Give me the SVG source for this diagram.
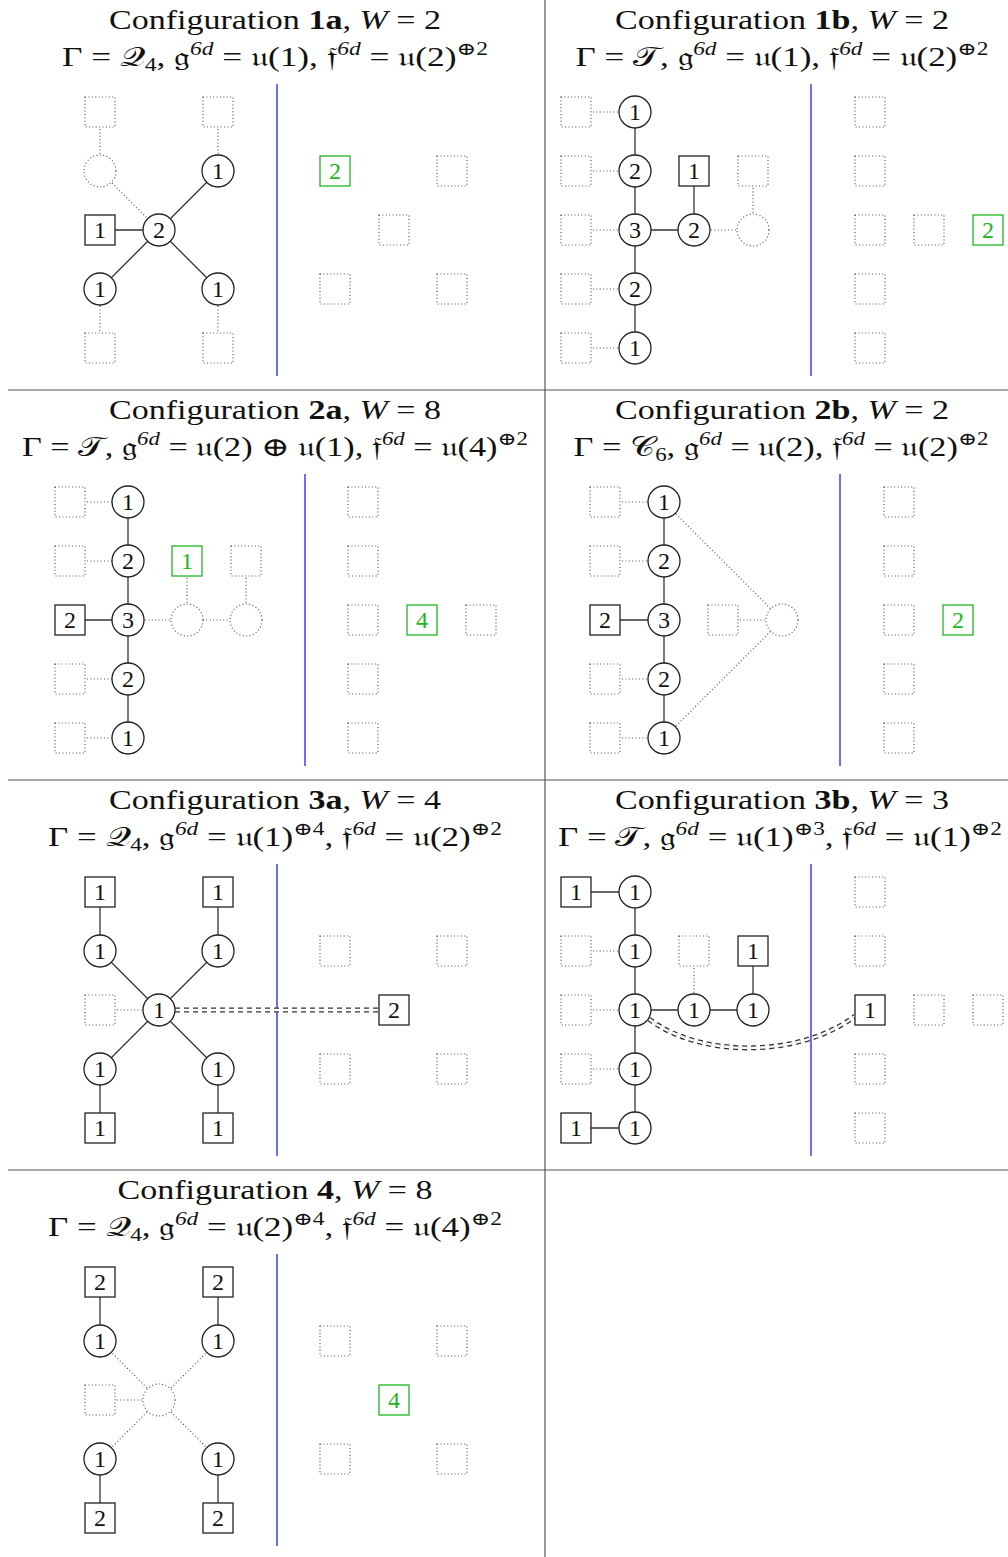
<svg xmlns="http://www.w3.org/2000/svg" width="1008" height="1557" viewBox="0 0 1008 1557">
<defs>
<style>
.bg{fill:#fff}
.grid{stroke:#555;stroke-width:1.2;fill:none}
.blue{stroke:#3333ee;stroke-width:1.4;fill:none}
.sl{stroke:#333;stroke-width:1.3;fill:none}
.dl{stroke:#555;stroke-width:1.2;stroke-dasharray:1 2.4;fill:none}
.dblo{stroke:#333;stroke-width:5;stroke-dasharray:5 4;fill:none}
.dbli{stroke:#fff;stroke-width:2.4;stroke-dasharray:5 4;fill:none}
.c{fill:#fff;stroke:#222;stroke-width:1.3}
.dc{fill:#fff;stroke:#555;stroke-width:1.2;stroke-dasharray:1 2.4}
.q{fill:#fff;stroke:#222;stroke-width:1.3}
.dq{fill:#fff;stroke:#555;stroke-width:1.2;stroke-dasharray:1 2.4}
.gq{fill:#fff;stroke:#22b422;stroke-width:1.3}
.n{font-family:"Liberation Serif","DejaVu Serif",serif;font-size:24px;text-anchor:middle;fill:#111}
.gn{font-family:"Liberation Serif","DejaVu Serif",serif;font-size:24px;text-anchor:middle;fill:#22b422}
.h{font-family:"Liberation Serif","DejaVu Serif","Noto Sans",serif;font-size:27px;text-anchor:middle;fill:#111}
.s{font-size:18px}
.i{font-style:italic}
.b{font-weight:bold}
</style>
</defs>
<rect class="bg" x="0" y="0" width="1008" height="1557"/>
<g id="grid">
<line class="grid" x1="545" y1="0" x2="545" y2="1557"/>
<line class="grid" x1="8" y1="390" x2="1008" y2="390"/>
<line class="grid" x1="8" y1="780" x2="1008" y2="780"/>
<line class="grid" x1="8" y1="1170" x2="1008" y2="1170"/>
</g>
<g id="titles">
<text class="h" x="275" y="29" textLength="332" lengthAdjust="spacingAndGlyphs">Configuration <tspan class="b">1a</tspan>, <tspan class="i">W</tspan> = 2</text>
<text class="h" x="275" y="66" textLength="426" lengthAdjust="spacingAndGlyphs">Γ = 𝒬<tspan class="s" dy="5">4</tspan><tspan dy="-5">, 𝔤</tspan><tspan class="s i" dy="-11">6d</tspan><tspan dy="11"> = 𝔲(1), 𝔣</tspan><tspan class="s i" dy="-11">6d</tspan><tspan dy="11"> = 𝔲(2)</tspan><tspan class="s" dy="-11">⊕2</tspan></text>
<text class="h" x="782" y="29" textLength="334" lengthAdjust="spacingAndGlyphs">Configuration <tspan class="b">1b</tspan>, <tspan class="i">W</tspan> = 2</text>
<text class="h" x="782" y="66" textLength="413" lengthAdjust="spacingAndGlyphs">Γ = 𝒯, 𝔤<tspan class="s i" dy="-11">6d</tspan><tspan dy="11"> = 𝔲(1), 𝔣</tspan><tspan class="s i" dy="-11">6d</tspan><tspan dy="11"> = 𝔲(2)</tspan><tspan class="s" dy="-11">⊕2</tspan></text>
<text class="h" x="275" y="419" textLength="332" lengthAdjust="spacingAndGlyphs">Configuration <tspan class="b">2a</tspan>, <tspan class="i">W</tspan> = 8</text>
<text class="h" x="275" y="456" textLength="506" lengthAdjust="spacingAndGlyphs">Γ = 𝒯, 𝔤<tspan class="s i" dy="-11">6d</tspan><tspan dy="11"> = 𝔲(2) ⊕ 𝔲(1), 𝔣</tspan><tspan class="s i" dy="-11">6d</tspan><tspan dy="11"> = 𝔲(4)</tspan><tspan class="s" dy="-11">⊕2</tspan></text>
<text class="h" x="782" y="419" textLength="334" lengthAdjust="spacingAndGlyphs">Configuration <tspan class="b">2b</tspan>, <tspan class="i">W</tspan> = 2</text>
<text class="h" x="781" y="456" textLength="415" lengthAdjust="spacingAndGlyphs">Γ = 𝒞<tspan class="s" dy="5">6</tspan><tspan dy="-5">, 𝔤</tspan><tspan class="s i" dy="-11">6d</tspan><tspan dy="11"> = 𝔲(2), 𝔣</tspan><tspan class="s i" dy="-11">6d</tspan><tspan dy="11"> = 𝔲(2)</tspan><tspan class="s" dy="-11">⊕2</tspan></text>
<text class="h" x="275" y="809" textLength="332" lengthAdjust="spacingAndGlyphs">Configuration <tspan class="b">3a</tspan>, <tspan class="i">W</tspan> = 4</text>
<text class="h" x="275" y="846" textLength="454" lengthAdjust="spacingAndGlyphs">Γ = 𝒬<tspan class="s" dy="5">4</tspan><tspan dy="-5">, 𝔤</tspan><tspan class="s i" dy="-11">6d</tspan><tspan dy="11"> = 𝔲(1)</tspan><tspan class="s" dy="-11">⊕4</tspan><tspan dy="11">, 𝔣</tspan><tspan class="s i" dy="-11">6d</tspan><tspan dy="11"> = 𝔲(2)</tspan><tspan class="s" dy="-11">⊕2</tspan></text>
<text class="h" x="782" y="809" textLength="334" lengthAdjust="spacingAndGlyphs">Configuration <tspan class="b">3b</tspan>, <tspan class="i">W</tspan> = 3</text>
<text class="h" x="780" y="846" textLength="444" lengthAdjust="spacingAndGlyphs">Γ = 𝒯, 𝔤<tspan class="s i" dy="-11">6d</tspan><tspan dy="11"> = 𝔲(1)</tspan><tspan class="s" dy="-11">⊕3</tspan><tspan dy="11">, 𝔣</tspan><tspan class="s i" dy="-11">6d</tspan><tspan dy="11"> = 𝔲(1)</tspan><tspan class="s" dy="-11">⊕2</tspan></text>
<text class="h" x="275" y="1199" textLength="315" lengthAdjust="spacingAndGlyphs">Configuration <tspan class="b">4</tspan>, <tspan class="i">W</tspan> = 8</text>
<text class="h" x="275" y="1236" textLength="454" lengthAdjust="spacingAndGlyphs">Γ = 𝒬<tspan class="s" dy="5">4</tspan><tspan dy="-5">, 𝔤</tspan><tspan class="s i" dy="-11">6d</tspan><tspan dy="11"> = 𝔲(2)</tspan><tspan class="s" dy="-11">⊕4</tspan><tspan dy="11">, 𝔣</tspan><tspan class="s i" dy="-11">6d</tspan><tspan dy="11"> = 𝔲(4)</tspan><tspan class="s" dy="-11">⊕2</tspan></text>
</g>
<g id="walls">
<line class="blue" x1="277" y1="84" x2="277" y2="376"/>
<line class="blue" x1="811" y1="84" x2="811" y2="376"/>
<line class="blue" x1="305" y1="474" x2="305" y2="766"/>
<line class="blue" x1="840" y1="474" x2="840" y2="766"/>
<line class="blue" x1="277" y1="864" x2="277" y2="1156"/>
<line class="blue" x1="811" y1="864" x2="811" y2="1156"/>
<line class="blue" x1="277" y1="1254" x2="277" y2="1546"/>
</g>
<g id="connectors">
<line class="sl" x1="159" y1="230" x2="218" y2="171"/>
<line class="sl" x1="159" y1="230" x2="100" y2="289"/>
<line class="sl" x1="159" y1="230" x2="218" y2="289"/>
<line class="sl" x1="100" y1="230" x2="159" y2="230"/>
<line class="dl" x1="100" y1="112" x2="100" y2="171"/>
<line class="dl" x1="100" y1="171" x2="159" y2="230"/>
<line class="dl" x1="218" y1="112" x2="218" y2="171"/>
<line class="dl" x1="100" y1="289" x2="100" y2="348"/>
<line class="dl" x1="218" y1="289" x2="218" y2="348"/>
<line class="sl" x1="635" y1="112" x2="635" y2="348"/>
<line class="sl" x1="635" y1="230" x2="694" y2="230"/>
<line class="sl" x1="694" y1="171" x2="694" y2="230"/>
<line class="dl" x1="576" y1="112" x2="635" y2="112"/>
<line class="dl" x1="576" y1="171" x2="635" y2="171"/>
<line class="dl" x1="576" y1="230" x2="635" y2="230"/>
<line class="dl" x1="576" y1="289" x2="635" y2="289"/>
<line class="dl" x1="576" y1="348" x2="635" y2="348"/>
<line class="dl" x1="694" y1="230" x2="753" y2="230"/>
<line class="dl" x1="753" y1="171" x2="753" y2="230"/>
<line class="sl" x1="128" y1="502" x2="128" y2="738"/>
<line class="sl" x1="70" y1="620" x2="128" y2="620"/>
<line class="dl" x1="70" y1="502" x2="128" y2="502"/>
<line class="dl" x1="70" y1="561" x2="128" y2="561"/>
<line class="dl" x1="70" y1="679" x2="128" y2="679"/>
<line class="dl" x1="70" y1="738" x2="128" y2="738"/>
<line class="dl" x1="128" y1="620" x2="246" y2="620"/>
<line class="dl" x1="187" y1="561" x2="187" y2="620"/>
<line class="dl" x1="246" y1="561" x2="246" y2="620"/>
<line class="sl" x1="664" y1="502" x2="664" y2="738"/>
<line class="sl" x1="605" y1="620" x2="664" y2="620"/>
<line class="dl" x1="605" y1="502" x2="664" y2="502"/>
<line class="dl" x1="605" y1="561" x2="664" y2="561"/>
<line class="dl" x1="605" y1="679" x2="664" y2="679"/>
<line class="dl" x1="605" y1="738" x2="664" y2="738"/>
<line class="dl" x1="723" y1="620" x2="782" y2="620"/>
<line class="dl" x1="664" y1="502" x2="782" y2="620"/>
<line class="dl" x1="664" y1="738" x2="782" y2="620"/>
<line class="sl" x1="100" y1="892" x2="100" y2="951"/>
<line class="sl" x1="218" y1="892" x2="218" y2="951"/>
<line class="sl" x1="100" y1="1069" x2="100" y2="1128"/>
<line class="sl" x1="218" y1="1069" x2="218" y2="1128"/>
<line class="sl" x1="159" y1="1010" x2="100" y2="951"/>
<line class="sl" x1="159" y1="1010" x2="218" y2="951"/>
<line class="sl" x1="159" y1="1010" x2="100" y2="1069"/>
<line class="sl" x1="159" y1="1010" x2="218" y2="1069"/>
<line class="dl" x1="100" y1="1010" x2="159" y2="1010"/>
<path class="dblo" d="M175,1010 L379,1010"/>
<path class="dbli" d="M175,1010 L379,1010"/>
<line class="sl" x1="576" y1="892" x2="635" y2="892"/>
<line class="sl" x1="576" y1="1128" x2="635" y2="1128"/>
<line class="sl" x1="635" y1="892" x2="635" y2="1128"/>
<line class="sl" x1="635" y1="1010" x2="753" y2="1010"/>
<line class="sl" x1="753" y1="951" x2="753" y2="1010"/>
<line class="dl" x1="576" y1="951" x2="635" y2="951"/>
<line class="dl" x1="576" y1="1010" x2="635" y2="1010"/>
<line class="dl" x1="576" y1="1069" x2="635" y2="1069"/>
<line class="dl" x1="694" y1="951" x2="694" y2="1010"/>
<path class="dblo" d="M649,1019 C700,1058 800,1058 855,1016"/>
<path class="dbli" d="M649,1019 C700,1058 800,1058 855,1016"/>
<line class="sl" x1="100" y1="1282" x2="100" y2="1341"/>
<line class="sl" x1="218" y1="1282" x2="218" y2="1341"/>
<line class="sl" x1="100" y1="1459" x2="100" y2="1518"/>
<line class="sl" x1="218" y1="1459" x2="218" y2="1518"/>
<line class="dl" x1="159" y1="1400" x2="100" y2="1341"/>
<line class="dl" x1="159" y1="1400" x2="218" y2="1341"/>
<line class="dl" x1="159" y1="1400" x2="100" y2="1459"/>
<line class="dl" x1="159" y1="1400" x2="218" y2="1459"/>
<line class="dl" x1="100" y1="1400" x2="159" y2="1400"/>
</g>
<g id="p1a">
<g id="p1a-f1"><rect class="dq" x="85" y="97" width="30" height="30"/></g>
<g id="p1a-f2"><rect class="dq" x="203" y="97" width="30" height="30"/></g>
<g id="p1a-f3"><rect class="dq" x="85" y="333" width="30" height="30"/></g>
<g id="p1a-f4"><rect class="dq" x="203" y="333" width="30" height="30"/></g>
<g id="p1a-dc"><circle class="dc" cx="100" cy="171" r="16"/></g>
<g id="p1a-a"><circle class="c" cx="218" cy="171" r="16"/><text class="n" x="218" y="179">1</text></g>
<g id="p1a-b"><circle class="c" cx="159" cy="230" r="16"/><text class="n" x="159" y="238">2</text></g>
<g id="p1a-c"><circle class="c" cx="100" cy="289" r="16"/><text class="n" x="100" y="297">1</text></g>
<g id="p1a-d"><circle class="c" cx="218" cy="289" r="16"/><text class="n" x="218" y="297">1</text></g>
<g id="p1a-s"><rect class="q" x="85" y="215" width="30" height="30"/><text class="n" x="100" y="238">1</text></g>
<g id="p1a-g"><rect class="gq" x="320" y="156" width="30" height="30"/><text class="gn" x="335" y="179">2</text></g>
<g id="p1a-r1"><rect class="dq" x="437" y="156" width="30" height="30"/></g>
<g id="p1a-r2"><rect class="dq" x="379" y="215" width="30" height="30"/></g>
<g id="p1a-r3"><rect class="dq" x="320" y="274" width="30" height="30"/></g>
<g id="p1a-r4"><rect class="dq" x="437" y="274" width="30" height="30"/></g>
</g>
<g id="p1b">
<g id="p1b-f1"><rect class="dq" x="561" y="97" width="30" height="30"/></g>
<g id="p1b-f2"><rect class="dq" x="561" y="156" width="30" height="30"/></g>
<g id="p1b-f3"><rect class="dq" x="561" y="215" width="30" height="30"/></g>
<g id="p1b-f4"><rect class="dq" x="561" y="274" width="30" height="30"/></g>
<g id="p1b-f5"><rect class="dq" x="561" y="333" width="30" height="30"/></g>
<g id="p1b-a"><circle class="c" cx="635" cy="112" r="16"/><text class="n" x="635" y="120">1</text></g>
<g id="p1b-b"><circle class="c" cx="635" cy="171" r="16"/><text class="n" x="635" y="179">2</text></g>
<g id="p1b-c"><circle class="c" cx="635" cy="230" r="16"/><text class="n" x="635" y="238">3</text></g>
<g id="p1b-d"><circle class="c" cx="635" cy="289" r="16"/><text class="n" x="635" y="297">2</text></g>
<g id="p1b-e"><circle class="c" cx="635" cy="348" r="16"/><text class="n" x="635" y="356">1</text></g>
<g id="p1b-f"><circle class="c" cx="694" cy="230" r="16"/><text class="n" x="694" y="238">2</text></g>
<g id="p1b-s"><rect class="q" x="679" y="156" width="30" height="30"/><text class="n" x="694" y="179">1</text></g>
<g id="p1b-f6"><rect class="dq" x="738" y="156" width="30" height="30"/></g>
<g id="p1b-dc"><circle class="dc" cx="753" cy="230" r="16"/></g>
<g id="p1b-r1"><rect class="dq" x="855" y="97" width="30" height="30"/></g>
<g id="p1b-r2"><rect class="dq" x="855" y="156" width="30" height="30"/></g>
<g id="p1b-r3"><rect class="dq" x="855" y="215" width="30" height="30"/></g>
<g id="p1b-r4"><rect class="dq" x="855" y="274" width="30" height="30"/></g>
<g id="p1b-r5"><rect class="dq" x="855" y="333" width="30" height="30"/></g>
<g id="p1b-r6"><rect class="dq" x="914" y="215" width="30" height="30"/></g>
<g id="p1b-g"><rect class="gq" x="973" y="215" width="30" height="30"/><text class="gn" x="988" y="238">2</text></g>
</g>
<g id="p2a">
<g id="p2a-f1"><rect class="dq" x="55" y="487" width="30" height="30"/></g>
<g id="p2a-f2"><rect class="dq" x="55" y="546" width="30" height="30"/></g>
<g id="p2a-f3"><rect class="dq" x="55" y="664" width="30" height="30"/></g>
<g id="p2a-f4"><rect class="dq" x="55" y="723" width="30" height="30"/></g>
<g id="p2a-s"><rect class="q" x="55" y="605" width="30" height="30"/><text class="n" x="70" y="628">2</text></g>
<g id="p2a-a"><circle class="c" cx="128" cy="502" r="16"/><text class="n" x="128" y="510">1</text></g>
<g id="p2a-b"><circle class="c" cx="128" cy="561" r="16"/><text class="n" x="128" y="569">2</text></g>
<g id="p2a-c"><circle class="c" cx="128" cy="620" r="16"/><text class="n" x="128" y="628">3</text></g>
<g id="p2a-d"><circle class="c" cx="128" cy="679" r="16"/><text class="n" x="128" y="687">2</text></g>
<g id="p2a-e"><circle class="c" cx="128" cy="738" r="16"/><text class="n" x="128" y="746">1</text></g>
<g id="p2a-g1"><rect class="gq" x="172" y="546" width="30" height="30"/><text class="gn" x="187" y="569">1</text></g>
<g id="p2a-dc1"><circle class="dc" cx="187" cy="620" r="16"/></g>
<g id="p2a-dc2"><circle class="dc" cx="246" cy="620" r="16"/></g>
<g id="p2a-f5"><rect class="dq" x="231" y="546" width="30" height="30"/></g>
<g id="p2a-r1"><rect class="dq" x="348" y="487" width="30" height="30"/></g>
<g id="p2a-r2"><rect class="dq" x="348" y="546" width="30" height="30"/></g>
<g id="p2a-r3"><rect class="dq" x="348" y="605" width="30" height="30"/></g>
<g id="p2a-r4"><rect class="dq" x="348" y="664" width="30" height="30"/></g>
<g id="p2a-r5"><rect class="dq" x="348" y="723" width="30" height="30"/></g>
<g id="p2a-g2"><rect class="gq" x="407" y="605" width="30" height="30"/><text class="gn" x="422" y="628">4</text></g>
<g id="p2a-r6"><rect class="dq" x="466" y="605" width="30" height="30"/></g>
</g>
<g id="p2b">
<g id="p2b-f1"><rect class="dq" x="590" y="487" width="30" height="30"/></g>
<g id="p2b-f2"><rect class="dq" x="590" y="546" width="30" height="30"/></g>
<g id="p2b-f3"><rect class="dq" x="590" y="664" width="30" height="30"/></g>
<g id="p2b-f4"><rect class="dq" x="590" y="723" width="30" height="30"/></g>
<g id="p2b-s"><rect class="q" x="590" y="605" width="30" height="30"/><text class="n" x="605" y="628">2</text></g>
<g id="p2b-a"><circle class="c" cx="664" cy="502" r="16"/><text class="n" x="664" y="510">1</text></g>
<g id="p2b-b"><circle class="c" cx="664" cy="561" r="16"/><text class="n" x="664" y="569">2</text></g>
<g id="p2b-c"><circle class="c" cx="664" cy="620" r="16"/><text class="n" x="664" y="628">3</text></g>
<g id="p2b-d"><circle class="c" cx="664" cy="679" r="16"/><text class="n" x="664" y="687">2</text></g>
<g id="p2b-e"><circle class="c" cx="664" cy="738" r="16"/><text class="n" x="664" y="746">1</text></g>
<g id="p2b-f5"><rect class="dq" x="708" y="605" width="30" height="30"/></g>
<g id="p2b-dc"><circle class="dc" cx="782" cy="620" r="16"/></g>
<g id="p2b-r1"><rect class="dq" x="884" y="487" width="30" height="30"/></g>
<g id="p2b-r2"><rect class="dq" x="884" y="546" width="30" height="30"/></g>
<g id="p2b-r3"><rect class="dq" x="884" y="605" width="30" height="30"/></g>
<g id="p2b-r4"><rect class="dq" x="884" y="664" width="30" height="30"/></g>
<g id="p2b-r5"><rect class="dq" x="884" y="723" width="30" height="30"/></g>
<g id="p2b-g"><rect class="gq" x="943" y="605" width="30" height="30"/><text class="gn" x="958" y="628">2</text></g>
</g>
<g id="p3a">
<g id="p3a-s1"><rect class="q" x="85" y="877" width="30" height="30"/><text class="n" x="100" y="900">1</text></g>
<g id="p3a-s2"><rect class="q" x="203" y="877" width="30" height="30"/><text class="n" x="218" y="900">1</text></g>
<g id="p3a-s3"><rect class="q" x="85" y="1113" width="30" height="30"/><text class="n" x="100" y="1136">1</text></g>
<g id="p3a-s4"><rect class="q" x="203" y="1113" width="30" height="30"/><text class="n" x="218" y="1136">1</text></g>
<g id="p3a-a"><circle class="c" cx="100" cy="951" r="16"/><text class="n" x="100" y="959">1</text></g>
<g id="p3a-b"><circle class="c" cx="218" cy="951" r="16"/><text class="n" x="218" y="959">1</text></g>
<g id="p3a-c"><circle class="c" cx="159" cy="1010" r="16"/><text class="n" x="159" y="1018">1</text></g>
<g id="p3a-d"><circle class="c" cx="100" cy="1069" r="16"/><text class="n" x="100" y="1077">1</text></g>
<g id="p3a-e"><circle class="c" cx="218" cy="1069" r="16"/><text class="n" x="218" y="1077">1</text></g>
<g id="p3a-f1"><rect class="dq" x="85" y="995" width="30" height="30"/></g>
<g id="p3a-s5"><rect class="q" x="379" y="995" width="30" height="30"/><text class="n" x="394" y="1018">2</text></g>
<g id="p3a-r1"><rect class="dq" x="320" y="936" width="30" height="30"/></g>
<g id="p3a-r2"><rect class="dq" x="437" y="936" width="30" height="30"/></g>
<g id="p3a-r3"><rect class="dq" x="320" y="1054" width="30" height="30"/></g>
<g id="p3a-r4"><rect class="dq" x="437" y="1054" width="30" height="30"/></g>
</g>
<g id="p3b">
<g id="p3b-s1"><rect class="q" x="561" y="877" width="30" height="30"/><text class="n" x="576" y="900">1</text></g>
<g id="p3b-f1"><rect class="dq" x="561" y="936" width="30" height="30"/></g>
<g id="p3b-f2"><rect class="dq" x="561" y="995" width="30" height="30"/></g>
<g id="p3b-f3"><rect class="dq" x="561" y="1054" width="30" height="30"/></g>
<g id="p3b-s2"><rect class="q" x="561" y="1113" width="30" height="30"/><text class="n" x="576" y="1136">1</text></g>
<g id="p3b-a"><circle class="c" cx="635" cy="892" r="16"/><text class="n" x="635" y="900">1</text></g>
<g id="p3b-b"><circle class="c" cx="635" cy="951" r="16"/><text class="n" x="635" y="959">1</text></g>
<g id="p3b-c"><circle class="c" cx="635" cy="1010" r="16"/><text class="n" x="635" y="1018">1</text></g>
<g id="p3b-d"><circle class="c" cx="635" cy="1069" r="16"/><text class="n" x="635" y="1077">1</text></g>
<g id="p3b-e"><circle class="c" cx="635" cy="1128" r="16"/><text class="n" x="635" y="1136">1</text></g>
<g id="p3b-f"><circle class="c" cx="694" cy="1010" r="16"/><text class="n" x="694" y="1018">1</text></g>
<g id="p3b-g"><circle class="c" cx="753" cy="1010" r="16"/><text class="n" x="753" y="1018">1</text></g>
<g id="p3b-f4"><rect class="dq" x="679" y="936" width="30" height="30"/></g>
<g id="p3b-s3"><rect class="q" x="738" y="936" width="30" height="30"/><text class="n" x="753" y="959">1</text></g>
<g id="p3b-r1"><rect class="dq" x="855" y="877" width="30" height="30"/></g>
<g id="p3b-r2"><rect class="dq" x="855" y="936" width="30" height="30"/></g>
<g id="p3b-s4"><rect class="q" x="855" y="995" width="30" height="30"/><text class="n" x="870" y="1018">1</text></g>
<g id="p3b-r3"><rect class="dq" x="914" y="995" width="30" height="30"/></g>
<g id="p3b-r4"><rect class="dq" x="973" y="995" width="30" height="30"/></g>
<g id="p3b-r5"><rect class="dq" x="855" y="1054" width="30" height="30"/></g>
<g id="p3b-r6"><rect class="dq" x="855" y="1113" width="30" height="30"/></g>
</g>
<g id="p4">
<g id="p4-s1"><rect class="q" x="85" y="1267" width="30" height="30"/><text class="n" x="100" y="1290">2</text></g>
<g id="p4-s2"><rect class="q" x="203" y="1267" width="30" height="30"/><text class="n" x="218" y="1290">2</text></g>
<g id="p4-s3"><rect class="q" x="85" y="1503" width="30" height="30"/><text class="n" x="100" y="1526">2</text></g>
<g id="p4-s4"><rect class="q" x="203" y="1503" width="30" height="30"/><text class="n" x="218" y="1526">2</text></g>
<g id="p4-a"><circle class="c" cx="100" cy="1341" r="16"/><text class="n" x="100" y="1349">1</text></g>
<g id="p4-b"><circle class="c" cx="218" cy="1341" r="16"/><text class="n" x="218" y="1349">1</text></g>
<g id="p4-d"><circle class="c" cx="100" cy="1459" r="16"/><text class="n" x="100" y="1467">1</text></g>
<g id="p4-e"><circle class="c" cx="218" cy="1459" r="16"/><text class="n" x="218" y="1467">1</text></g>
<g id="p4-dc"><circle class="dc" cx="159" cy="1400" r="16"/></g>
<g id="p4-f1"><rect class="dq" x="85" y="1385" width="30" height="30"/></g>
<g id="p4-r1"><rect class="dq" x="320" y="1326" width="30" height="30"/></g>
<g id="p4-r2"><rect class="dq" x="437" y="1326" width="30" height="30"/></g>
<g id="p4-r3"><rect class="dq" x="320" y="1444" width="30" height="30"/></g>
<g id="p4-r4"><rect class="dq" x="437" y="1444" width="30" height="30"/></g>
<g id="p4-g"><rect class="gq" x="379" y="1385" width="30" height="30"/><text class="gn" x="394" y="1408">4</text></g>
</g>
</svg>
